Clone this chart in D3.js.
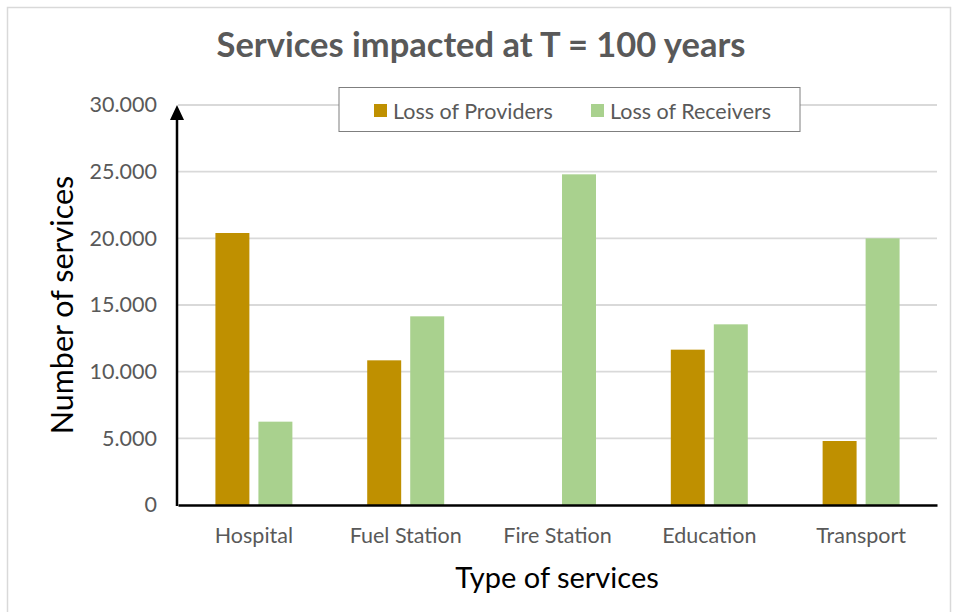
<!DOCTYPE html>
<html>
<head>
<meta charset="utf-8">
<script src="https://cdn.jsdelivr.net/npm/d3@7"></script>
<style>
  body { margin: 0; background: #fff; }
  text { font-family: Lato, "Open Sans", sans-serif; }
</style>
</head>
<body>
<div class="chart"></div>
<script>
var categories = ['Hospital', 'Fuel Station', 'Fire Station', 'Education', 'Transport'];
var seriesNames = ['Loss of Providers', 'Loss of Receivers'];
var providers = [20400, 10850, 0, 11650, 4800];
var receivers = [6250, 14150, 24800, 13550, 20000];
var yTicks = [0, 5000, 10000, 15000, 20000, 25000, 30000];

var gold = '#bf9000';
var green = '#a9d18e';
var grey = '#595959';
var gridgrey = '#d9d9d9';

var width = 955;
var height = 612;
var margin = {top: 105, right: 18, bottom: 107, left: 178};

var svg = d3.select('.chart')
  .append('svg')
  .attr('width', width)
  .attr('height', height);

// outer frame
svg.append('rect')
  .attr('x', 7.5)
  .attr('y', 7.5)
  .attr('width', 943)
  .attr('height', 620)
  .attr('fill', 'none')
  .attr('stroke', gridgrey)
  .attr('stroke-width', 1.5);

/// Scales
var x0 = d3.scaleBand()
  .domain(categories)
  .range([margin.left, width - margin.right]);

var x1 = d3.scaleBand()
  .domain(seriesNames)
  .range([0, x0.bandwidth()])
  .paddingInner(0.21)
  .paddingOuter(0.87);

var y = d3.scaleLinear()
  .domain([0, 30000])
  .range([height - margin.bottom, margin.top]);

/// Gridlines
svg.append('g')
  .selectAll('line')
  .data(yTicks.slice(1))
  .enter().append('line')
  .attr('x1', margin.left)
  .attr('x2', width - margin.right)
  .attr('y1', function(d){ return y(d); })
  .attr('y2', function(d){ return y(d); })
  .attr('stroke', gridgrey)
  .attr('stroke-width', 1.8);

/// Y axis labels
var yAxis = d3.axisLeft(y)
  .tickValues(yTicks)
  .tickSize(0)
  .tickPadding(21)
  .tickFormat(function(d){ return d === 0 ? '0' : d3.format(',.3f')(d / 1000).replace(',', ''); });

var gy = svg.append('g')
  .attr('transform', 'translate(' + margin.left + ',0)')
  .call(yAxis);
gy.select('.domain').remove();
gy.selectAll('text')
  .attr('fill', grey)
  .attr('font-size', '21.5px')
  .attr('font-family', 'Lato, sans-serif');

/// Bars
var rows = categories.map(function(c, i){
  return {cat: c, values: [
    {name: seriesNames[0], value: providers[i], color: gold},
    {name: seriesNames[1], value: receivers[i], color: green}
  ]};
});

var groups = svg.append('g')
  .selectAll('g')
  .data(rows)
  .enter().append('g')
  .attr('transform', function(d){ return 'translate(' + x0(d.cat) + ',0)'; });

groups.selectAll('rect')
  .data(function(d){ return d.values.filter(function(v){ return v.value > 0; }); })
  .enter().append('rect')
  .attr('x', function(d){ return x1(d.name); })
  .attr('width', x1.bandwidth())
  .attr('y', function(d){ return y(d.value); })
  .attr('height', function(d){ return y(0) - y(d.value); })
  .attr('fill', function(d){ return d.color; });

/// X axis
var xAxis = d3.axisBottom(x0)
  .tickSize(0)
  .tickPadding(23);

var gx = svg.append('g')
  .attr('transform', 'translate(0,' + y(0) + ')')
  .call(xAxis);
gx.select('.domain')
  .attr('stroke', 'black')
  .attr('stroke-width', 2.5);
gx.selectAll('text')
  .attr('fill', grey)
  .attr('font-size', '21.5px')
  .attr('font-family', 'Lato, sans-serif');

/// Y axis line with arrow
svg.append('line')
  .attr('x1', margin.left - 1)
  .attr('x2', margin.left - 1)
  .attr('y1', y(0) + 1)
  .attr('y2', y(30000) + 12)
  .attr('stroke', 'black')
  .attr('stroke-width', 2.5);

svg.append('polygon')
  .attr('points', [[margin.left - 1, y(30000)], [margin.left - 8, y(30000) + 15], [margin.left + 6, y(30000) + 15]].join(' '))
  .attr('fill', 'black');

/// Title
svg.append('text')
  .attr('x', 481)
  .attr('y', 57)
  .attr('text-anchor', 'middle')
  .attr('font-size', '34.5px')
  .attr('font-weight', 'bold')
  .attr('fill', grey)
  .text('Services impacted at T = 100 years');

/// Axis titles
svg.append('text')
  .attr('x', 557)
  .attr('y', 588)
  .attr('text-anchor', 'middle')
  .attr('font-size', '29px')
  .attr('fill', 'black')
  .text('Type of services');

svg.append('text')
  .attr('transform', 'translate(73,' + 305 + ') rotate(-90)')
  .attr('text-anchor', 'middle')
  .attr('font-size', '30.5px')
  .attr('fill', 'black')
  .text('Number of services');

/// Legend
var legend = svg.append('g');
legend.append('rect')
  .attr('x', 339)
  .attr('y', 87.5)
  .attr('width', 461)
  .attr('height', 44)
  .attr('fill', 'white')
  .attr('stroke', '#7f7f7f')
  .attr('stroke-width', 1);

var legendX = [374, 591];
var legendItems = legend.selectAll('g.item')
  .data(seriesNames)
  .enter().append('g')
  .attr('class', 'item')
  .attr('transform', function(d, i){ return 'translate(' + legendX[i] + ',104)'; });

legendItems.append('rect')
  .attr('width', 13)
  .attr('height', 13)
  .attr('fill', function(d, i){ return [gold, green][i]; });

legendItems.append('text')
  .attr('x', 19)
  .attr('y', 14.5)
  .attr('font-size', '21.5px')
  .attr('fill', grey)
  .text(function(d){ return d; });
</script>
</body>
</html>
